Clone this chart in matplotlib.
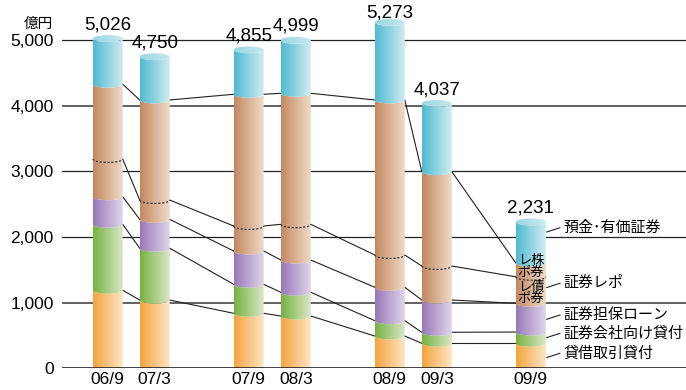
import numpy as np
import matplotlib
matplotlib.use('Agg')
import matplotlib.pyplot as plt
from matplotlib.colors import LinearSegmentedColormap
from matplotlib.patches import Polygon, Ellipse

plt.rcParams['font.family'] = ['Liberation Sans', 'Noto Sans CJK JP']

# data (億円)
periods = ['06/9', '07/3', '07/9', '08/3', '08/9', '09/3', '09/9']
slots = [0, 1, 3, 4, 6, 7, 9]
totals = [5026, 4750, 4855, 4999, 5273, 4037, 2231]
lending = [1190, 1040, 838, 797, 492, 381, 381]          # 貸借取引貸付
broker_loans = [1005, 790, 442, 362, 234, 168, 172]      # 証券会社向け貸付
margin_loans = [420, 440, 508, 492, 509, 492, 437]       # 証券担保ローン
bond_repo = [575, 295, 381, 544, 492, 518, 405]          # 債券レポ
stock_repo = [1140, 1525, 2008, 1997, 2363, 1438, 210]   # 株券レポ

side_names = ['貸借取引貸付', '証券会社向け貸付', '証券担保ローン', '証券レポ', '預金･有価証券']
side_y = [229, 533, 812, 1296, 2143]

# left (dark) -> right (light) colours of each stacked piece
seg_colors = [('#f4a43e', '#fde6c6'),
              ('#76b33f', '#dce6c9'),
              ('#9878b7', '#e0d6ea'),
              ('#c3885f', '#efdccb'),
              ('#c3885f', '#efdccb'),
              ('#4fbad0', '#d2ecf2')]
cap_colors = ('#98d6e3', '#c6e9f0')

HW = 0.319    # half bar width (x units)
B = 52        # ellipse half height (data units)

fig = plt.figure(figsize=(6.86, 3.9), dpi=100)
ax = fig.add_axes([62 / 686, 21.7 / 390, 624 / 686, 368.3 / 390])
ax.set_xlim(-0.972, 12.30)
ax.set_ylim(0, 5614)

grad = np.linspace(0, 1, 256).reshape(1, -1)


def gradient_fill(patch, x0, x1, y0, y1, c_left, c_right, z):
    ax.add_patch(patch)
    patch.set_visible(False)
    cmap = LinearSegmentedColormap.from_list('g', [c_left, c_right])
    im = ax.imshow(grad, cmap=cmap, extent=(x0, x1, y0, y1), aspect='auto',
                   interpolation='bilinear', zorder=z)
    im.set_clip_path(patch)


xs = np.linspace(-1, 1, 80)
arc = np.sqrt(1 - xs ** 2)

stacks = np.vstack([lending, broker_loans, margin_loans, bond_repo, stock_repo])
cum = np.cumsum(stacks, axis=0)
deposits = np.array(totals) - cum[-1]
pieces = np.vstack([stacks, deposits])
tops = np.cumsum(pieces, axis=0)

for i, xc in enumerate(slots):
    bottom = 0
    for k in range(pieces.shape[0]):
        top = tops[k, i]
        lo = np.full_like(xs, 0.0) if k == 0 else bottom - B * arc
        hi = top - B * arc
        pts = np.column_stack([np.r_[xc + xs * HW, xc + xs[::-1] * HW],
                               np.r_[lo, hi[::-1]]])
        poly = Polygon(pts, closed=True)
        gradient_fill(poly, xc - HW, xc + HW, min(lo.min(), 0), top,
                      seg_colors[k][0], seg_colors[k][1], 3)
        bottom = top
    # cap
    cap = Ellipse((xc, totals[i]), 2 * HW, 2 * B)
    gradient_fill(cap, xc - HW, xc + HW, totals[i] - B, totals[i] + B,
                  cap_colors[0], cap_colors[1], 4)
    # dashed split between bond repo and stock repo
    ax.plot(xc + xs * HW, cum[3, i] - B * arc, color='#222222', lw=0.8,
            ls=(0, (2, 1.5)), zorder=5)
    # value label, kept inside the figure for the tallest bar
    ylab = min(totals[i] + B + 91, 5340)
    ax.text(xc, ylab, f'{totals[i]:,}', ha='center', va='baseline', fontsize=13.5)

# connecting lines between bars
for k in range(5):
    for i in range(len(slots) - 1):
        ax.plot([slots[i] + HW, slots[i + 1] - HW], [cum[k, i], cum[k, i + 1]],
                color='#222222', lw=0.8, zorder=2)

# grid
for v in range(1000, 6000, 1000):
    ax.axhline(v, color='#555555' if v in (1000, 4000) else '#222222',
               lw=1.3 if v in (1000, 4000) else 0.9, zorder=1)
ax.axhline(0, color='#222222', lw=1.2, zorder=6)

for s in ax.spines.values():
    s.set_visible(False)
ax.set_yticks(range(0, 6000, 1000))
ax.set_yticklabels([f'{v:,}' for v in range(0, 6000, 1000)], fontsize=12.5)
ax.set_xticks(slots)
ax.set_xticklabels(periods, fontsize=12.5)
ax.tick_params(length=0)
ax.tick_params(axis='y', pad=6)
ax.tick_params(axis='x', pad=3)

fig.text(53 / 686, 1 - 24 / 390, '億円', ha='right', va='center', fontsize=10.5)

# labels on the right
xr = slots[-1] + HW
for name, y in zip(side_names, side_y):
    ax.plot([xr + 0.02, xr + 0.3], [y - 65, y], color='#222222', lw=0.8, zorder=6)
    ax.text(xr + 0.38, y, name, ha='left', va='center', fontsize=10.8, clip_on=False)

xl = slots[-1]
for txt, y in zip(['レ株', 'ポ券', 'レ債', 'ポ券'], [1640, 1460, 1228, 1056]):
    ax.text(xl, y, txt, ha='center', va='center', fontsize=9.5, zorder=7)

fig.savefig('out.png', dpi=100)
